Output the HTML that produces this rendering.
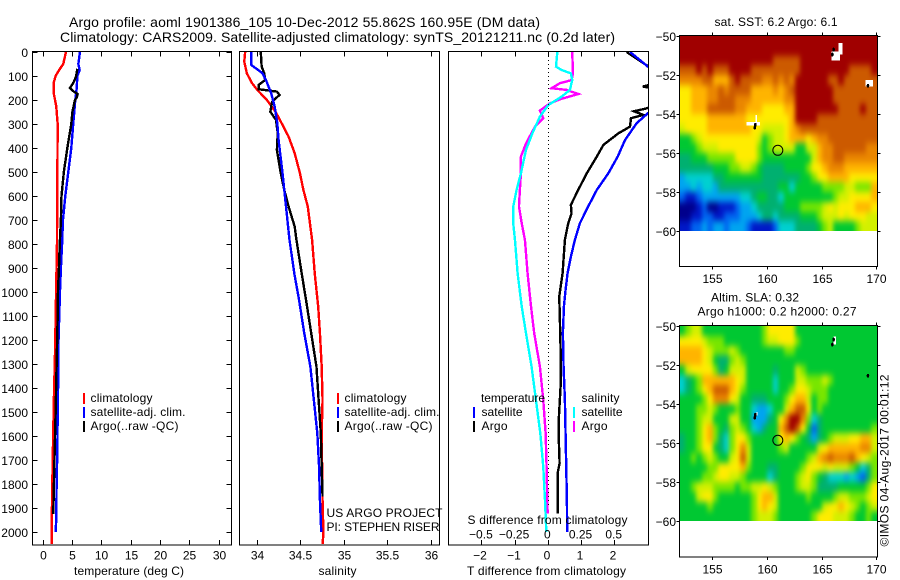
<!DOCTYPE html>
<html lang="en">
<head>
<meta charset="utf-8">
<title>Argo profile</title>
<style>
html,body{margin:0;padding:0;background:#fff;}
svg{display:block;}
text{font-family:"Liberation Sans",sans-serif;font-size:12px;fill:#000;}
.title{font-size:14px;}
</style>
</head>
<body>
<svg id="chart" xmlns="http://www.w3.org/2000/svg" width="900" height="580" viewBox="0 0 900 580">
  <defs>
    <clipPath id="clip-t"><rect x="32" y="52" width="199" height="493"/></clipPath>
    <clipPath id="clip-s"><rect x="239" y="52" width="200" height="493"/></clipPath>
    <clipPath id="clip-d"><rect x="448" y="52" width="200" height="493"/></clipPath>
    <clipPath id="clip-map-a"><rect x="680" y="36" width="197" height="195"/></clipPath>
    <clipPath id="clip-map-b"><rect x="680" y="326" width="197" height="195"/></clipPath>
    <filter id="heat-blur" filterUnits="userSpaceOnUse" x="650" y="0" width="250" height="580" color-interpolation-filters="sRGB">
      <feGaussianBlur stdDeviation="2.2 3.4"/>
    </filter>
  </defs>
  <text class="title" x="69" y="27" textLength="471">Argo profile: aoml 1901386_105 10-Dec-2012 55.862S 160.95E (DM data)</text>
  <text class="title" x="60" y="42" textLength="555">Climatology: CARS2009. Satellite-adjusted climatology: synTS_20121211.nc (0.2d later)</text>
  <g clip-path="url(#clip-map-a)">
    <g id="layer-heat-a" filter="url(#heat-blur)"></g>
  </g>
  <g clip-path="url(#clip-map-b)">
    <g id="layer-heat-b" filter="url(#heat-blur)"></g>
  </g>
  <g id="layer-overlay"></g>
  <g id="layer-lines"></g>
  <g id="layer-axes"></g>

  <g>
    <rect x="83" y="393" width="2" height="11" fill="#f00"/>
    <rect x="83" y="407" width="2" height="11" fill="#00f"/>
    <rect x="83" y="421" width="2" height="11" fill="#000"/>
    <text x="90.5" y="402" textLength="62">climatology</text>
    <text x="90.5" y="416" textLength="95">satellite-adj. clim.</text>
    <text x="90.5" y="430" textLength="88">Argo(..raw -QC)</text>
  </g>
  <g>
    <rect x="337" y="393" width="2" height="11" fill="#f00"/>
    <rect x="337" y="407" width="2" height="11" fill="#00f"/>
    <rect x="337" y="421" width="2" height="11" fill="#000"/>
    <text x="344.5" y="402" textLength="62">climatology</text>
    <text x="344.5" y="416" textLength="95">satellite-adj. clim.</text>
    <text x="344.5" y="430" textLength="88">Argo(..raw -QC)</text>
    <text x="326.5" y="517" textLength="116">US ARGO PROJECT</text>
    <text x="326.5" y="531" textLength="113">PI: STEPHEN RISER</text>
  </g>
  <g>
    <text x="481" y="402" textLength="64">temperature</text>
    <rect x="473" y="407" width="2" height="11" fill="#00f"/>
    <text x="481.5" y="416" textLength="41">satellite</text>
    <rect x="473" y="421" width="2" height="11" fill="#000"/>
    <text x="481.5" y="430" textLength="26">Argo</text>
    <text x="581.5" y="402" textLength="38">salinity</text>
    <rect x="573" y="407" width="2" height="11" fill="#0ff"/>
    <text x="581.5" y="416" textLength="41">satellite</text>
    <rect x="573" y="421" width="2" height="11" fill="#f0f"/>
    <text x="581.5" y="430" textLength="26">Argo</text>
  </g>

  <text x="74" y="575" textLength="110">temperature (deg C)</text>
  <text x="318.5" y="575" textLength="38">salinity</text>
  <text x="467" y="575" textLength="159">T difference from climatology</text>
  <text x="467.5" y="524" textLength="160">S difference from climatology</text>

  <text x="714.5" y="26" textLength="123">sat. SST: 6.2 Argo: 6.1</text>
  <text x="711" y="301.5" textLength="88">Altim. SLA: 0.32</text>
  <text x="697.5" y="315.5" textLength="159">Argo h1000: 0.2 h2000: 0.27</text>
  <text transform="translate(888.5,546.5) rotate(-90)" x="0" y="0" textLength="172">©IMOS 04-Aug-2017 00:01:12</text>
</svg>

<script>
/* ---------- profile data (depth in metres, T in deg C, S in psu) ---------- */
const depthTicks = [0,100,200,300,400,500,600,700,800,900,1000,1100,1200,1300,1400,1500,1600,1700,1800,1900,2000];
const tempTicks = [0,5,10,15,20,25,30];
const salTicks = [34,34.5,35,35.5,36];
const salTickLabels = ['34','34.5','35','35.5','36'];
const tDiffTicks = [-2,-1,0,1,2];
const tDiffTickLabels = ['\u22122','\u22121','0','1','2'];
const sDiffTicks = [-0.5,-0.25,0,0.25,0.5];
const sDiffTickLabels = ['\u22120.5','\u22120.25','0','0.25','0.5'];

const tempClimDepth = [0,50,75,100,125,150,175,200,225,300,500,800,1000,1250,1450,1700,1980,2050];
const tempClimValue = [3.86,3.4,2.7,2.1,1.8,1.76,1.8,2.0,2.2,2.45,2.4,2.33,2.18,2.0,1.8,1.6,1.42,1.45];
const tempSatDepth = [0,50,75,100,150,200,300,400,500,600,700,800,900,1000,1200,1350,1500,1650,1800,1950,2000];
const tempSatValue = [6.25,5.97,6.2,5.8,5.7,5.45,5.1,4.77,4.26,3.75,3.35,3.2,3.0,2.84,2.6,2.55,2.45,2.4,2.27,2.2,2.1];
const tempArgoDepth = [70,100,125,150,165,175,190,200,250,300,350,400,450,500,600,700,800,900,1000,1100,1300,1500,1700,1925];
const tempArgoValue = [5.8,5.6,5.2,4.55,5.2,5.85,5.7,5.4,4.95,4.77,4.43,4.1,3.8,3.5,3.1,3.0,2.8,2.67,2.5,2.45,2.27,2.1,1.9,1.7];

const salClimDepth = [0,40,89,130,158,200,249,297,353,422,505,575,644,783,922,1061,1172,1311,1450,1589,1867,2006,2050];
const salClimValue = [33.86,33.85,33.88,33.94,34.0,34.11,34.21,34.28,34.36,34.43,34.49,34.53,34.58,34.63,34.66,34.7,34.72,34.74,34.75,34.74,34.75,34.76,34.75];
const salSatDepth = [0,54,75,89,117,172,228,297,367,505,644,783,922,1033,1172,1311,1450,1589,1728,1867,2000];
const salSatValue = [33.93,33.93,34.01,34.06,34.1,34.16,34.2,34.23,34.245,34.29,34.33,34.37,34.425,34.48,34.54,34.61,34.65,34.69,34.71,34.72,34.735];
const salArgoDepth = [0,61,89,117,137,155,165,179,207,249,283,339,408,505,575,644,728,783,922,1033,1172,1311,1450,1589,1728,1853];
const salArgoValue = [34.04,34.05,34.08,34.09,34.015,34.015,34.225,34.255,34.17,34.15,34.215,34.235,34.225,34.27,34.31,34.36,34.43,34.45,34.51,34.56,34.62,34.68,34.705,34.73,34.74,34.75];

const dTempSatDepth = [0,28,61,120,200,255,297,367,436,505,575,644,714,783,853,922,992,1061,1172,1311,1450,1589,1728,1867,2000];
const dTempSatValue = [2.46,2.71,3.0,3.7,3.6,3.0,2.66,2.31,2.09,1.81,1.46,1.2,0.95,0.8,0.68,0.58,0.52,0.47,0.44,0.46,0.5,0.52,0.54,0.56,0.57];
const dTempArgoDepth = [0,50,100,125,144,155,175,200,235,247,262,276,311,339,387,436,505,575,637,672,714,783,922,1019,1172,1311,1394,1519,1630,1714,1756,1867,1922];
const dTempArgoValue = [2.36,2.9,3.5,3.4,2.85,3.3,4.0,3.5,2.96,2.58,2.86,2.49,2.46,2.11,1.66,1.46,1.16,0.9,0.68,0.7,0.6,0.5,0.43,0.33,0.36,0.38,0.37,0.32,0.32,0.34,0.28,0.28,0.28];
const dSalSatDepth = [0,61,75,89,117,158,186,221,269,339,408,505,575,644,714,783,922,1061,1172,1311,1450,1589,1728,1867,2000];
const dSalSatValue = [0.068,0.058,0.1,0.17,0.18,0.163,0.1,0,-0.063,-0.12,-0.168,-0.206,-0.239,-0.264,-0.264,-0.251,-0.231,-0.2,-0.168,-0.126,-0.093,-0.06,-0.038,-0.025,-0.015];
const dSalArgoDepth = [0,89,117,130,151,158,175,197,214,244,276,311,381,436,505,575,644,714,783,922,1061,1172,1311,1450,1589,1728,1922];
const dSalArgoValue = [0.18,0.186,0.176,0.088,0.025,0.138,0.226,0.088,0.012,-0.063,-0.038,-0.1,-0.168,-0.206,-0.206,-0.214,-0.221,-0.2,-0.176,-0.156,-0.13,-0.106,-0.063,-0.038,-0.02,-0.013,-0.005];
const zeroLineDepth = [0,1900];

/* ---------- map data: colour levels 0 (coldest/lowest) to 13 (warmest/highest) on a 0.5 degree grid ---------- */
const mapLonTicks = [155,160,165,170];
const mapLatTicks = [-50,-52,-54,-56,-58,-60];
const floatLon = [160.95];
const floatLat = [-55.862];
const trackLon = [165.95,166.05,169.2,158.9,158.85];
const trackLat = [-50.95,-50.7,-52.55,-54.55,-54.7];
const sstMissingLon = [165.85,166.5,168.95,158.1,158.9];
const sstMissingLat = [-50.8,-50.35,-52.25,-54.4,-54.05];
const sstMissingW = [0.8,0.35,0.7,1.2,0.15];
const sstMissingH = [0.45,0.6,0.35,0.2,0.35];
const slaMissingLon = [166.05,159.0];
const slaMissingLat = [-50.55,-54.4];
const slaMissingW = [0.2,0.1];
const slaMissingH = [0.4,0.2];

const sstLevels = [
[13,13,13,13,13,13,13,13,13,13,13,13,13,13,13,13,13,13,13,13,13,13,13,13,13,13,13,13,13,13,13,13,13,13,13,13],
[13,13,13,13,13,13,13,13,13,13,13,13,13,13,13,13,13,13,13,13,13,13,13,13,13,13,13,13,13,13,13,13,13,13,13,13],
[13,13,13,13,13,13,13,13,13,13,13,13,13,13,13,13,13,12,12,12,12,12,13,13,13,13,13,13,13,13,13,13,13,13,13,13],
[12,12,12,13,12,13,12,12,12,13,13,13,13,12,12,12,12,12,12,12,12,12,13,13,13,13,13,13,13,13,13,12,12,12,12,13],
[11,11,11,11,12,12,10,10,10,12,13,12,12,12,12,11,11,12,11,12,11,13,13,13,13,13,13,12,12,13,12,12,12,12,12,12],
[9,9,10,10,10,11,11,12,11,12,12,12,12,10,10,10,10,11,10,11,12,13,13,13,13,13,13,13,12,12,12,12,12,12,12,12],
[9,9,10,10,10,11,11,12,12,12,11,11,11,10,10,10,10,10,10,11,11,13,13,13,13,13,13,13,12,12,12,12,12,12,12,12],
[9,9,10,10,10,12,12,12,12,12,11,11,10,10,10,9,9,9,9,10,10,13,13,13,13,13,13,13,13,12,12,12,12,13,12,12],
[9,9,9,9,9,10,10,10,10,10,10,10,9,9,9,9,9,9,9,9,10,13,13,13,13,12,12,12,12,12,12,12,12,12,12,12],
[8,9,9,9,9,10,10,10,10,10,10,10,10,9,9,8,8,8,8,9,10,11,12,12,12,12,12,12,12,12,12,12,12,12,12,12],
[6,6,7,8,9,9,9,9,9,9,9,9,9,9,8,6,7,8,8,9,10,10,10,9,10,11,11,12,12,12,12,12,12,12,12,12],
[6,6,6,7,8,8,8,9,9,9,9,9,9,9,7,6,7,8,8,8,8,6,6,8,8,10,11,11,12,12,12,12,12,12,11,11],
[5,5,6,6,6,7,7,7,7,7,9,9,9,9,7,6,6,6,6,6,6,6,6,6,8,10,11,11,12,12,11,11,11,11,11,11],
[5,5,5,5,5,5,6,6,6,7,7,8,8,7,6,5,5,5,5,6,6,6,6,7,9,9,10,11,11,11,10,10,10,10,10,10],
[3,4,4,4,4,4,5,5,6,6,6,6,6,6,6,5,5,5,5,5,5,5,6,6,7,9,9,10,10,10,10,9,9,9,9,9],
[3,3,4,3,4,4,3,5,5,5,5,5,5,5,5,5,5,5,6,6,4,6,6,6,6,6,7,7,7,7,8,8,7,7,7,10],
[2,1,1,2,3,3,3,3,3,3,3,4,4,5,6,6,5,5,4,6,6,6,6,6,6,6,6,6,7,8,8,9,9,9,9,10],
[0,0,0,1,2,0,0,1,1,1,2,3,3,4,5,5,5,5,5,6,6,6,7,7,7,7,8,9,8,9,9,9,10,10,10,9],
[0,0,1,1,2,2,1,1,2,2,2,3,3,3,4,5,5,4,5,5,5,5,6,6,6,7,8,8,8,9,8,9,9,9,8,8],
[1,1,2,2,3,2,3,3,2,3,3,3,2,1,1,1,1,2,4,4,4,5,5,5,5,6,7,8,6,6,6,6,7,8,8,8]
];

const slaLevels = [
[6,7,8,8,6,6,6,6,6,6,6,6,6,6,6,7,9,9,9,9,9,6,6,6,6,6,6,6,6,6,6,6,6,6,6,6],
[9,9,9,9,8,7,7,7,6,6,6,6,6,6,6,7,8,8,9,9,9,7,6,6,6,6,6,6,6,6,6,6,6,6,6,6],
[10,10,10,10,9,8,7,7,7,8,7,6,6,6,6,6,6,6,6,7,7,6,6,6,6,6,6,6,6,6,6,6,6,6,6,6],
[10,10,10,10,9,8,6,5,5,7,8,7,6,6,6,6,6,6,6,6,6,6,6,6,6,6,6,6,6,6,6,6,6,6,6,6],
[6,8,9,9,9,9,7,5,6,8,8,8,6,6,6,6,6,5,6,6,6,8,7,6,6,6,6,6,6,6,6,6,6,6,6,6],
[4,5,6,7,10,10,10,10,10,10,9,8,6,6,6,6,6,4,6,6,6,8,8,7,7,7,8,7,6,6,6,6,6,6,6,6],
[4,5,6,7,9,10,12,12,12,10,9,7,6,6,6,6,6,4,6,6,7,9,9,8,7,7,7,6,6,6,6,6,6,6,6,6],
[6,6,6,6,7,9,11,11,11,9,8,6,6,5,5,5,6,6,6,7,9,10,10,8,6,7,7,6,6,6,6,6,6,6,6,6],
[6,6,6,7,7,8,7,6,6,6,7,6,6,4,3,3,4,6,6,8,10,12,12,9,6,7,6,6,6,6,6,6,6,6,6,6],
[6,6,6,7,8,8,6,6,6,8,8,6,6,3,3,3,5,6,9,11,13,13,11,7,4,5,6,6,6,6,6,6,6,6,6,6],
[6,6,6,7,9,10,7,6,5,7,8,7,6,4,3,5,6,6,10,12,13,12,9,6,2,5,6,6,6,6,6,6,6,6,6,7],
[5,6,6,7,9,10,7,5,4,7,9,9,7,6,6,6,6,6,9,10,9,7,6,5,3,5,6,7,8,8,8,9,9,10,10,8],
[5,6,6,7,9,9,6,5,4,7,9,11,8,6,6,6,6,6,7,8,6,6,6,6,6,8,9,10,10,10,10,10,10,11,11,8],
[6,6,7,6,7,8,7,6,6,8,9,12,8,6,6,6,6,6,6,6,6,6,6,7,8,10,11,12,11,11,11,12,10,9,8,7],
[6,6,6,6,6,7,7,9,9,9,9,10,7,6,6,6,5,5,6,6,6,6,7,9,9,9,8,9,8,8,8,7,6,4,5,7],
[6,6,6,6,7,7,8,9,9,8,8,7,6,6,6,6,4,5,6,6,6,7,8,9,7,6,5,4,4,4,3,4,3,2,5,7],
[6,6,7,8,8,8,7,7,7,7,6,7,7,8,8,9,8,7,6,6,6,7,8,8,7,5,5,5,5,6,6,6,6,6,7,9],
[6,6,6,8,9,9,7,6,6,6,6,6,6,7,9,10,10,8,6,6,6,6,6,7,6,6,6,6,7,8,8,7,7,7,8,9],
[6,6,6,6,6,7,6,6,6,6,6,6,6,7,9,10,9,8,6,6,6,6,6,6,6,6,8,9,9,10,9,8,7,6,7,8],
[6,6,6,6,6,6,6,6,6,6,6,6,6,7,8,8,8,7,6,6,6,6,6,6,7,9,9,9,8,8,8,7,6,6,7,6]
];

const levelColors = ['#00008c','#0018c8','#0064f0','#00a4f0','#00d0d0','#00b070','#00c832','#78e600','#d2f000','#ffec00','#ffb400','#ea8600','#cc5a00','#a00000'];

/* ---------- helpers ---------- */
const NS = 'http://www.w3.org/2000/svg';
const layerHeatA = document.getElementById('layer-heat-a');
const layerHeatB = document.getElementById('layer-heat-b');
const layerOverlay = document.getElementById('layer-overlay');
const layerLines = document.getElementById('layer-lines');
const layerAxes = document.getElementById('layer-axes');

function make(parent, tag) {
  const el = document.createElementNS(NS, tag);
  parent.appendChild(el);
  return el;
}

const yDepth = d => 52 + d * 0.24;
const xTemp = t => 43.3 + t * 5.867;
const xSal = s => 257.3 + (s - 34) * 87;
const xTDiff = t => 548.3 + t * 33.2;
const xSDiff = s => 548.3 + s * 4 * 33.2;
const xLon = lon => 680 + (lon - 152) * 10.93;
const yLatA = lat => 36 + (-50 - lat) * 19.5;
const yLatB = lat => 326 + (-50 - lat) * 19.5;

function drawLine(name, depths, values, xFn, color, clipId) {
  const line = make(layerLines, 'polyline');
  
  
  line.setAttribute('points', depths.map((d, i) => xFn(values[i]).toFixed(2) + ',' + yDepth(d).toFixed(2)).join(' '));
  line.setAttribute('fill', 'none');
  line.setAttribute('stroke', color);
  line.setAttribute('stroke-width', '2.4');
  line.setAttribute('shape-rendering', 'crispEdges');
  line.setAttribute('clip-path', 'url(#' + clipId + ')');
  return line;
}

function drawFrame(name, x, y, w, h) {
  const frame = make(layerAxes, 'rect');
  
  
  frame.setAttribute('x', x);
  frame.setAttribute('y', y);
  frame.setAttribute('width', w);
  frame.setAttribute('height', h);
  frame.setAttribute('fill', 'none');
  frame.setAttribute('stroke', '#000');
  frame.setAttribute('stroke-width', '1');
  frame.setAttribute('shape-rendering', 'crispEdges');
}

function drawTick(x1, y1, x2, y2) {
  const tick = make(layerAxes, 'line');
  
  
  tick.setAttribute('x1', x1);
  tick.setAttribute('y1', y1);
  tick.setAttribute('x2', x2);
  tick.setAttribute('y2', y2);
  tick.setAttribute('stroke', '#000');
  tick.setAttribute('stroke-width', '1');
  tick.setAttribute('shape-rendering', 'crispEdges');
}

function drawLabel(name, x, y, str, anchor) {
  const label = make(layerAxes, 'text');
  
  
  label.setAttribute('x', x);
  label.setAttribute('y', y);
  label.setAttribute('text-anchor', anchor);
  label.textContent = str;
}

function snap(v) { return Math.round(v - 0.5) + 0.5; }

/* ---------- profile lines ---------- */
drawLine('temperature-climatology-line', tempClimDepth, tempClimValue, xTemp, '#f00', 'clip-t');
drawLine('temperature-satellite-line', tempSatDepth, tempSatValue, xTemp, '#00f', 'clip-t');
drawLine('temperature-argo-line', tempArgoDepth, tempArgoValue, xTemp, '#000', 'clip-t');

drawLine('salinity-climatology-line', salClimDepth, salClimValue, xSal, '#f00', 'clip-s');
drawLine('salinity-argo-line', salArgoDepth, salArgoValue, xSal, '#000', 'clip-s');
drawLine('salinity-satellite-line', salSatDepth, salSatValue, xSal, '#00f', 'clip-s');

drawLine('t-difference-argo-line', dTempArgoDepth, dTempArgoValue, xTDiff, '#000', 'clip-d');
drawLine('t-difference-satellite-line', dTempSatDepth, dTempSatValue, xTDiff, '#00f', 'clip-d');
drawLine('s-difference-argo-line', dSalArgoDepth, dSalArgoValue, xSDiff, '#f0f', 'clip-d');
drawLine('s-difference-satellite-line', dSalSatDepth, dSalSatValue, xSDiff, '#0ff', 'clip-d');

const zeroLine = make(layerLines, 'line');


zeroLine.setAttribute('x1', xTDiff(0));
zeroLine.setAttribute('x2', xTDiff(0));
zeroLine.setAttribute('y1', yDepth(zeroLineDepth[0]));
zeroLine.setAttribute('y2', yDepth(zeroLineDepth[1]));
zeroLine.setAttribute('stroke', '#000');
zeroLine.setAttribute('stroke-width', '1');
zeroLine.setAttribute('stroke-dasharray', '1 3');
zeroLine.setAttribute('shape-rendering', 'crispEdges');

/* ---------- profile axes ---------- */
drawFrame('temperature-panel-frame', 32.5, 51.5, 199, 493.5);
drawFrame('salinity-panel-frame', 239.5, 51.5, 200, 493.5);
drawFrame('difference-panel-frame', 448.5, 51.5, 200, 493.5);

depthTicks.forEach(d => {
  const y = snap(yDepth(d));
  drawTick(32.5, y, 37.5, y);
  drawTick(226.5, y, 231.5, y);
  drawLabel('depth-tick-label', 28, y + 4.5, String(d), 'end');
});
tempTicks.forEach(t => {
  const x = snap(xTemp(t));
  drawTick(x, 51.5, x, 56.5);
  drawTick(x, 540, x, 545);
  drawLabel('temperature-tick-label', x, 559.5, String(t), 'middle');
});
salTicks.forEach((s, i) => {
  const x = snap(xSal(s));
  drawTick(x, 51.5, x, 56.5);
  drawTick(x, 540, x, 545);
  drawLabel('salinity-tick-label', x, 559.5, salTickLabels[i], 'middle');
});
tDiffTicks.forEach((t, i) => {
  const x = snap(xTDiff(t));
  drawTick(x, 51.5, x, 56.5);
  drawTick(x, 540, x, 545);
  drawLabel('t-difference-tick-label', x - 1.5, 559.5, tDiffTickLabels[i], 'middle');
});
sDiffTicks.forEach((s, i) => {
  drawLabel('s-difference-tick-label', xSDiff(s) - 1, 538.5, sDiffTickLabels[i], 'middle');
});

/* ---------- maps ---------- */
function drawHeat(parent, name, levels, yFn) {
  const lastRow = levels.length - 1;
  levels.forEach((row, r) => {
    const lastCol = row.length - 1;
    row.forEach((level, c) => {
      /* edge cells run past the clip so the smoothing does not fade at the border */
      const x0 = Math.round(xLon(152 + c * 0.5)) - (c === 0 ? 14 : 0);
      const x1 = Math.round(xLon(152 + (c + 1) * 0.5)) + (c === lastCol ? 14 : 0);
      const y0 = Math.round(yFn(-50 - r * 0.5)) - (r === 0 ? 14 : 0);
      const y1 = Math.round(yFn(-50 - (r + 1) * 0.5)) + (r === lastRow ? 14 : 0);
      const cell = make(parent, 'rect');
      
      
      cell.setAttribute('x', x0);
      cell.setAttribute('y', y0);
      cell.setAttribute('width', x1 - x0);
      cell.setAttribute('height', y1 - y0);
      cell.setAttribute('fill', levelColors[level]);
      cell.setAttribute('shape-rendering', 'crispEdges');
    });
  });
}

function drawMissing(lons, lats, ws, hs, yFn) {
  lons.forEach((lon, i) => {
    const patch = make(layerOverlay, 'rect');
    
    
    patch.setAttribute('x', xLon(lon));
    patch.setAttribute('y', yFn(lats[i]));
    patch.setAttribute('width', ws[i] * 10.93);
    patch.setAttribute('height', hs[i] * 19.5);
    patch.setAttribute('fill', '#fff');
    patch.setAttribute('shape-rendering', 'crispEdges');
  });
}

function drawOverlay(yFn, mapName) {
  trackLon.forEach((lon, i) => {
    const dot = make(layerOverlay, 'ellipse');
    
    
    dot.setAttribute('cx', xLon(lon));
    dot.setAttribute('cy', yFn(trackLat[i]));
    dot.setAttribute('rx', '1.3');
    dot.setAttribute('ry', '2');
    dot.setAttribute('fill', '#000');
    dot.setAttribute('shape-rendering', 'crispEdges');
  });
  floatLon.forEach((lon, i) => {
    const circle = make(layerOverlay, 'circle');
    
    
    circle.setAttribute('cx', xLon(lon));
    circle.setAttribute('cy', yFn(floatLat[i]));
    circle.setAttribute('r', '5');
    circle.setAttribute('fill', 'none');
    circle.setAttribute('stroke', '#000');
    circle.setAttribute('stroke-width', '1');
  });
}

function drawMapAxes(name, yFn, top, bottom) {
  drawFrame(name + '-frame', 679.5, top, 198, bottom - top);
  mapLonTicks.forEach(lon => {
    const x = snap(xLon(lon));
    drawTick(x, top - 3, x, top);
    drawTick(x, bottom, x, bottom + 3);
    drawLabel(name + '-lon-tick-label', x, bottom + 16.5, String(lon), 'middle');
  });
  mapLatTicks.forEach(lat => {
    const y = snap(yFn(lat));
    drawTick(676.5, y, 679.5, y);
    drawTick(877.5, y, 880.5, y);
    drawLabel(name + '-lat-tick-label', 676, y + 4.5, '\u2212' + Math.abs(lat), 'end');
  });
}

drawHeat(layerHeatA, 'sst-cell', sstLevels, yLatA);
drawMissing(sstMissingLon, sstMissingLat, sstMissingW, sstMissingH, yLatA);
drawOverlay(yLatA, 'sst-map');
drawMapAxes('sst-map', yLatA, 35.5, 266.5);

drawHeat(layerHeatB, 'sla-cell', slaLevels, yLatB);
drawMissing(slaMissingLon, slaMissingLat, slaMissingW, slaMissingH, yLatB);
drawOverlay(yLatB, 'sla-map');
drawMapAxes('sla-map', yLatB, 325.5, 557);
</script>
</body>
</html>
